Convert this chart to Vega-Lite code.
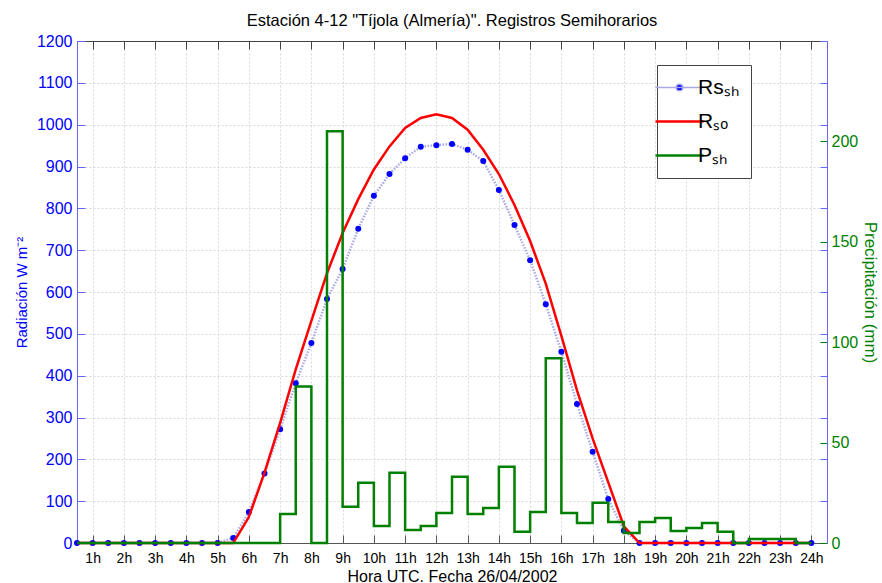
{
  "$schema": "https://vega.github.io/schema/vega-lite/v6.json",
  "width": 750,
  "height": 502,
  "autosize": {"type": "none"},
  "padding": {"left": 77, "top": 41, "right": 55, "bottom": 40},
  "background": "white",
  "title": {"text": "Estación 4-12 \"Tíjola (Almería)\". Registros Semihorarios", "font": "Liberation Sans", "fontSize": 16.5, "fontWeight": "normal", "color": "#000000", "offset": 4},
  "config": {
    "font": "Liberation Sans",
    "view": {"stroke": null},
    "axis": {"labelFont": "Liberation Sans", "titleFont": "Liberation Sans", "titleFontWeight": "normal", "gridColor": "#d8d8dc", "gridDash": [2, 2], "gridWidth": 1}
  },
  "data": {"values": [
    {"t": 0, "rs": 0, "rso": 0, "p": 0},
    {"t": 1, "rs": 0, "rso": 0, "p": 0},
    {"t": 2, "rs": 0, "rso": 0, "p": 0},
    {"t": 3, "rs": 0, "rso": 0, "p": 0},
    {"t": 4, "rs": 0, "rso": 0, "p": 0},
    {"t": 5, "rs": 0, "rso": 0, "p": 0},
    {"t": 6, "rs": 0, "rso": 0, "p": 0},
    {"t": 7, "rs": 0, "rso": 0, "p": 0},
    {"t": 8, "rs": 0, "rso": 0, "p": 0},
    {"t": 9, "rs": 0, "rso": 0, "p": 0},
    {"t": 10, "rs": 12, "rso": 0, "p": 0},
    {"t": 11, "rs": 74, "rso": 62, "p": 0},
    {"t": 12, "rs": 166, "rso": 168, "p": 0},
    {"t": 13, "rs": 272, "rso": 287, "p": 14.4},
    {"t": 14, "rs": 382, "rso": 415, "p": 78},
    {"t": 15, "rs": 478, "rso": 531, "p": 0},
    {"t": 16, "rs": 583, "rso": 645, "p": 205},
    {"t": 17, "rs": 655, "rso": 741, "p": 18},
    {"t": 18, "rs": 751, "rso": 822, "p": 30},
    {"t": 19, "rs": 830, "rso": 893, "p": 8.5},
    {"t": 20, "rs": 882, "rso": 948, "p": 35},
    {"t": 21, "rs": 920, "rso": 992, "p": 6.5},
    {"t": 22, "rs": 947, "rso": 1016, "p": 8.5},
    {"t": 23, "rs": 951, "rso": 1025, "p": 15},
    {"t": 24, "rs": 954, "rso": 1016, "p": 33},
    {"t": 25, "rs": 940, "rso": 988, "p": 14.4},
    {"t": 26, "rs": 913, "rso": 940, "p": 17.4},
    {"t": 27, "rs": 844, "rso": 882, "p": 38},
    {"t": 28, "rs": 760, "rso": 808, "p": 5.6},
    {"t": 29, "rs": 676, "rso": 722, "p": 15.4},
    {"t": 30, "rs": 571, "rso": 620, "p": 92},
    {"t": 31, "rs": 457, "rso": 495, "p": 15},
    {"t": 32, "rs": 332, "rso": 365, "p": 10},
    {"t": 33, "rs": 218, "rso": 250, "p": 20},
    {"t": 34, "rs": 105, "rso": 145, "p": 10.4},
    {"t": 35, "rs": 29, "rso": 40, "p": 5},
    {"t": 36, "rs": 0, "rso": 0, "p": 10.4},
    {"t": 37, "rs": 0, "rso": 0, "p": 12.4},
    {"t": 38, "rs": 0, "rso": 0, "p": 6},
    {"t": 39, "rs": 0, "rso": 0, "p": 7.5},
    {"t": 40, "rs": 0, "rso": 0, "p": 10},
    {"t": 41, "rs": 0, "rso": 0, "p": 5.6},
    {"t": 42, "rs": 0, "rso": 0, "p": 0},
    {"t": 43, "rs": 0, "rso": 0, "p": 2},
    {"t": 44, "rs": 0, "rso": 0, "p": 2},
    {"t": 45, "rs": 0, "rso": 0, "p": 2},
    {"t": 46, "rs": 0, "rso": 0, "p": 0},
    {"t": 47, "rs": 0, "rso": 0, "p": 0}
  ]},
  "layer": [
    {
      "mark": {"type": "line", "strokeWidth": 2.5, "strokeDash": [1.5, 1.5]},
      "encoding": {
        "x": {"field": "t", "type": "quantitative", "scale": {"domain": [0, 48], "nice": false, "zero": false},
          "axis": {"orient": "bottom", "values": [1,3,5,7,9,11,13,15,17,19,21,23,25,27,29,31,33,35,37,39,41,43,45,47],
            "labelExpr": "(datum.value + 1) / 2 + 'h'", "labelFontSize": 14, "labelColor": "#000000", "labelPadding": 16,
            "tickSize": -8, "tickColor": "#555555", "domainColor": "#555555", "grid": true,
            "title": "Hora UTC. Fecha 26/04/2002", "titleFontSize": 16, "titleColor": "#000000", "titlePadding": 3}},
        "y": {"field": "rs", "type": "quantitative", "scale": {"domain": [0, 1200], "nice": false},
          "axis": {"orient": "left", "values": [0,100,200,300,400,500,600,700,800,900,1000,1100,1200], "format": "d",
            "labelFontSize": 16, "labelColor": "#0000ff", "labelPadding": 13, "tickSize": -8, "tickColor": "#6666ff", "domainColor": "#6666ff",
            "grid": true, "title": "Radiación W m⁻²", "titleFontSize": 15, "titleColor": "#0000ff", "titlePadding": 7}},
        "color": {"datum": "Rsₛₕ", "type": "nominal",
          "scale": {"domain": ["Rsₛₕ", "Rₛₒ", "Pₛₕ"], "range": ["#a8a8e8", "#ff0000", "#008000"]},
          "legend": {"orient": "none", "legendX": 580, "legendY": 24, "title": null, "padding": 12,
            "strokeColor": "#444444", "fillColor": "#ffffff", "symbolType": "stroke", "symbolSize": 2304, "symbolStrokeWidth": 2.5,
            "labelFontSize": 21, "labelFont": "Liberation Sans", "labelColor": "#000000", "labelOffset": 8, "rowPadding": 12,
            "encode": {"symbols": {"update": {
              "shape": {"signal": "datum.value === 'Rsₛₕ' ? 'M-1,0H1M0.14,0A0.14,0.14 0 1,1 -0.14,0A0.14,0.14 0 1,1 0.14,0Z' : 'stroke'"},
              "fill": {"signal": "datum.value === 'Rsₛₕ' ? '#0000ff' : 'transparent'"},
              "strokeWidth": {"signal": "datum.value === 'Rsₛₕ' ? 1.5 : 2.5"}
            }}}}}
      }
    },
    {
      "mark": {"type": "point", "filled": true, "color": "#0000ff", "size": 36, "opacity": 1},
      "encoding": {
        "x": {"field": "t", "type": "quantitative", "axis": null},
        "y": {"field": "rs", "type": "quantitative", "scale": {"domain": [0, 1200], "nice": false}, "axis": null}
      }
    },
    {
      "mark": {"type": "line", "strokeWidth": 2.5},
      "encoding": {
        "x": {"field": "t", "type": "quantitative",
          "axis": {"orient": "top", "values": [1,3,5,7,9,11,13,15,17,19,21,23,25,27,29,31,33,35,37,39,41,43,45,47],
            "labels": false, "tickSize": -8, "tickColor": "#444444", "domainColor": "#444444", "grid": false, "title": null}},
        "y": {"field": "rso", "type": "quantitative", "scale": {"domain": [0, 1200], "nice": false}, "axis": null},
        "color": {"datum": "Rₛₒ", "type": "nominal"}
      }
    },
    {
      "mark": {"type": "line", "strokeWidth": 2.5, "interpolate": "step-after"},
      "encoding": {
        "x": {"field": "t", "type": "quantitative", "axis": null},
        "y": {"field": "p", "type": "quantitative", "scale": {"domain": [0, 250], "nice": false},
          "axis": {"orient": "right", "values": [0, 20.8333, 41.6667, 50, 62.5, 83.3333, 100, 104.1667, 125, 145.8333, 150, 166.6667, 187.5, 200, 208.3333, 229.1667, 250],
            "labelExpr": "(datum.value % 50 === 0 && datum.value < 250) ? datum.label : ''",
            "labelFontSize": 16, "labelColor": "#008000", "labelPadding": 11, "tickSize": -7,
            "tickColor": {"condition": {"test": "datum.value % 50 === 0 && datum.value < 250", "value": "#008000"}, "value": "#6666ff"},
            "domainColor": "#6666ff", "grid": false,
            "title": "Precipitación (mm)", "titleFontSize": 17, "titleColor": "#008000", "titlePadding": 3}},
        "color": {"datum": "Pₛₕ", "type": "nominal"}
      }
    }
  ],
  "resolve": {"scale": {"y": "independent"}, "axis": {"x": "independent", "y": "independent"}}
}
